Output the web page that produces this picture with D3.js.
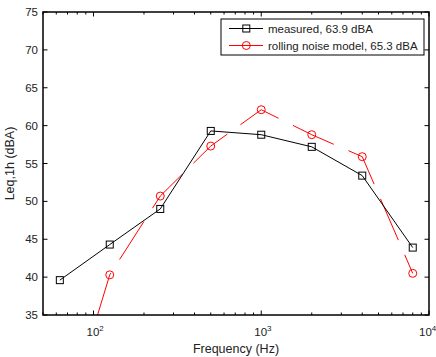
<!DOCTYPE html>
<html>
<head>
<meta charset="utf-8">
<script src="https://cdn.jsdelivr.net/npm/d3@7"></script>
<style>
  body { margin: 0; background: #fff; }
  text { font-family: "Liberation Sans", Arial, sans-serif; fill: #222; }
</style>
</head>
<body>
<svg id="chart" width="436" height="357"></svg>
<script>
// band centre frequencies (Hz)
const freqs = [63, 125, 250, 500, 1000, 2000, 4000, 8000];
const measured = [39.6, 44.3, 49.0, 59.3, 58.8, 57.2, 53.4, 43.9];
const model = [18.6, 40.3, 50.7, 57.3, 62.1, 58.8, 55.9, 40.5];
const yTicks = [35, 40, 45, 50, 55, 60, 65, 70, 75];
const xMajor = [100, 1000, 10000];
const legendLabels = ["measured, 63.9 dBA", "rolling noise model, 65.3 dBA"];

const svg = d3.select("#chart"),
    margin = { top: 12, right: 7, bottom: 42, left: 43 },
    width = +svg.attr("width") - margin.left - margin.right,
    height = +svg.attr("height") - margin.top - margin.bottom,
    g = svg.append("g").attr("transform", "translate(" + margin.left + "," + margin.top + ")");

const x = d3.scaleLog().domain([50, 10000]).range([0, width]),
    y = d3.scaleLinear().domain([35, 75]).range([height, 0]);

svg.append("defs").append("clipPath").attr("id", "clip")
    .append("rect").attr("width", width).attr("height", height);

// minor ticks on log axis
let minor = [];
[10, 100, 1000].forEach(function (d) {
    for (let k = 2; k <= 9; k++) {
        const v = d * k;
        if (v >= 50 && v <= 10000) minor.push(v);
    }
});

function tickLines(vals, len, isX) {
    vals.forEach(function (v) {
        if (isX) {
            const px = x(v);
            g.append("line").attr("x1", px).attr("x2", px).attr("y1", height).attr("y2", height - len)
                .attr("stroke", "#000").attr("stroke-width", 1);
            g.append("line").attr("x1", px).attr("x2", px).attr("y1", 0).attr("y2", len)
                .attr("stroke", "#000").attr("stroke-width", 1);
        } else {
            const py = y(v);
            g.append("line").attr("x1", 0).attr("x2", len).attr("y1", py).attr("y2", py)
                .attr("stroke", "#000").attr("stroke-width", 1);
            g.append("line").attr("x1", width).attr("x2", width - len).attr("y1", py).attr("y2", py)
                .attr("stroke", "#000").attr("stroke-width", 1);
        }
    });
}
tickLines(minor, 2.5, true);
tickLines(xMajor, 4.5, true);
tickLines(yTicks, 4.5, false);

// y tick labels
g.selectAll(".ylab").data(yTicks).enter().append("text")
    .attr("x", -5).attr("y", d => y(d) + 4)
    .attr("text-anchor", "end").style("font-size", "11.5px")
    .text(d => d);

// x tick labels 10^n, base centred on the tick (last one kept inside the page)
xMajor.forEach(function (v, i) {
    const shift = i === xMajor.length - 1 ? 3 : 0;
    const t = g.append("text").attr("x", x(v) - 7 - shift).attr("y", height + 21)
        .attr("text-anchor", "start").style("font-size", "11.5px");
    t.append("tspan").text("10");
    t.append("tspan").attr("dy", -5).style("font-size", "8px").text(Math.round(Math.log10(v)));
});

// axis labels
g.append("text").attr("x", width / 2).attr("y", height + 38)
    .attr("text-anchor", "middle").style("font-size", "12.5px").text("Frequency (Hz)");
g.append("text").attr("transform", "translate(-29," + (height / 2) + ") rotate(-90)")
    .attr("text-anchor", "middle").style("font-size", "12.5px").text("Leq,1h (dBA)");

const line = d3.line().x((d, i) => x(freqs[i])).y(d => y(d));

const plot = g.append("g").attr("clip-path", "url(#clip)");

plot.append("path").datum(model).attr("d", line)
    .attr("fill", "none").attr("stroke", "#ff0000").attr("stroke-width", 1)
    .attr("stroke-dasharray", "45,16").attr("stroke-dashoffset", 54);

plot.append("path").datum(measured).attr("d", line)
    .attr("fill", "none").attr("stroke", "#000").attr("stroke-width", 1);

plot.selectAll(".sq").data(measured).enter().append("rect")
    .attr("x", (d, i) => x(freqs[i]) - 3.5).attr("y", d => y(d) - 3.5)
    .attr("width", 7).attr("height", 7)
    .attr("fill", "none").attr("stroke", "#000").attr("stroke-width", 1);

plot.selectAll(".ci").data(model).enter().append("circle")
    .attr("cx", (d, i) => x(freqs[i])).attr("cy", d => y(d)).attr("r", 4)
    .attr("fill", "none").attr("stroke", "#ff0000").attr("stroke-width", 1);

// frame
g.append("rect").attr("width", width).attr("height", height)
    .attr("fill", "none").attr("stroke", "#000").attr("stroke-width", 1.5);

// legend
const lg = g.append("g").attr("transform", "translate(" + (221 - margin.left) + "," + (19 - margin.top) + ")");
lg.append("rect").attr("width", 203).attr("height", 36)
    .attr("fill", "#fff").attr("stroke", "#000").attr("stroke-width", 1);
const lcolors = ["#000", "#ff0000"];
legendLabels.forEach(function (lab, i) {
    const ly = 9.5 + i * 17;
    lg.append("line").attr("x1", 8).attr("x2", 42).attr("y1", ly).attr("y2", ly)
        .attr("stroke", lcolors[i]).attr("stroke-width", 1);
    if (i === 0) {
        lg.append("rect").attr("x", 25.3 - 3.5).attr("y", ly - 3.5).attr("width", 7).attr("height", 7)
            .attr("fill", "none").attr("stroke", "#000");
    } else {
        lg.append("circle").attr("cx", 25.3).attr("cy", ly).attr("r", 4)
            .attr("fill", "none").attr("stroke", "#ff0000");
    }
    lg.append("text").attr("x", 47).attr("y", ly + 4).style("font-size", "11.5px").text(lab);
});
</script>
</body>
</html>
